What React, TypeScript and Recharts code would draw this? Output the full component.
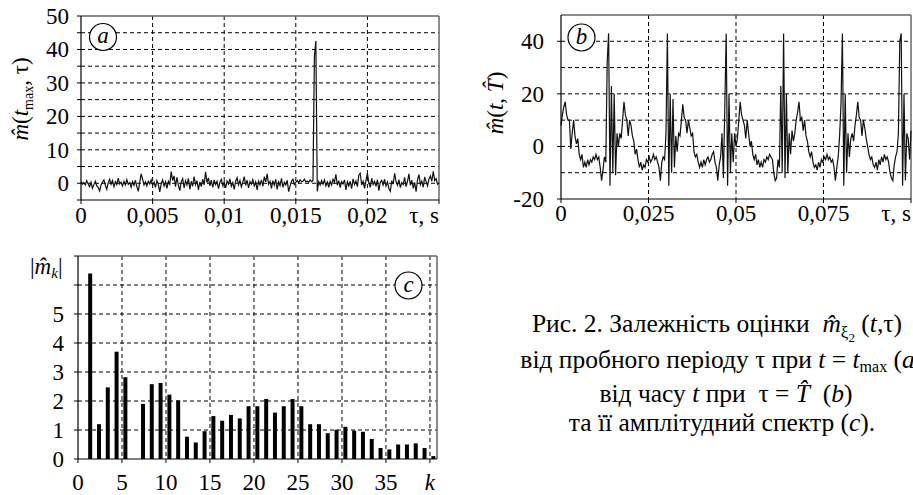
import React from 'react';
import { LineChart, Line, BarChart, Bar, XAxis, YAxis, CartesianGrid, ReferenceLine } from 'recharts';

const SERIF = "'Times New Roman', 'Liberation Serif', 'DejaVu Serif', serif";

// (a) m(t_max, tau), sampled every 0.0001 s
const aStep = 0.0001;
const aValues = [
    0.5, -0.3, 0.2, -0.5, 0.8, -0.2, -1.0, 0.3, -1.5, -0.4, 0.6, -0.8, -1.2, -2.3, -0.5, 0.4, 1.0, -0.6, -1.8, 0.2, 1.2, -0.3, 0.8, -1.0, 0.5,
    -0.4, 1.5, -0.2, 0.3, -0.8, 0.6, -0.5, 1.1, -0.3, 0.2, -1.2, 0.5, -0.6, 0.9, -1.0, -2.4, 0.3, 2.8, 1.2, -0.5, 0.4, -0.8, 0.6, -0.2, 1.0,
    -0.6, 0.3, -1.2, 0.8, -0.4, -2.6, -0.2, 1.0, -0.8, 0.5, -1.5, 0.6, -0.3, 3.5, 0.8, 2.2, -1.0, 1.8, -0.6, -2.2, 0.5, 1.4, -1.4, 0.8, -0.5,
    1.5, -1.8, 0.6, -0.9, 2.0, -0.4, 0.8, -2.0, 0.4, -1.0, 1.2, -0.5, 3.4, 0.2, 1.6, -0.8, 0.9, -1.2, 1.0, -0.4, 0.6, -1.6, 0.3, 1.2, -0.7,
    0.4, -1.4, 0.7, -0.2, 1.3, -0.9, 0.2, -1.8, 0.6, 1.7, -0.5, 0.8, -1.1, 0.3, 2.0, -0.6, 0.9, -1.4, 0.5, -0.3, 1.1, -0.8, 0.4, -2.0, 0.6,
    -0.5, 1.0, -0.9, 2.0, 0.4, 2.8, -0.3, 0.6, -1.5, 0.8, -0.6, 1.2, -1.8, 0.4, -0.7, 1.5, -1.2, 0.3, -0.5, 0.9, -2.5, -0.8, 0.6, 1.2, -0.4,
    0.3, 0.8, 0.2, 1.0, 0.5, 0.6, 1.2, 0.4, 0.7, 0.3, 1.0, 0.5, 0.8, 38, 42.5, -2.4, 0.5, -0.5, 0.8, -0.3, 1.0, -0.8, 0.4, -1.2, 0.6,
    -0.5, 1.2, 0.3, 2.7, -0.6, 0.8, -1.3, 0.5, -0.2, 1.0, -2.0, 0.4, -0.8, 0.6, -1.6, 1.3, -0.4, 0.7, -1.0, 2.4, 3.0, -0.5, 0.6, -1.5, 0.8,
    3.0, 0.2, -1.2, 1.5, -0.4, 0.6, -0.9, 1.0, -2.2, 0.3, 0.9, -0.5, 1.2, -0.8, 0.4, -1.6, -2.4, 0.8, -0.3, 3.0, 0.5, -0.6, 1.1, -1.3, 0.2,
    -0.4, 1.8, -1.0, 0.6, 2.8, -0.6, 0.9, -1.5, 0.3, -2.5, 1.0, 2.6, -0.4, 0.7, -1.2, 1.9, 0.5, -0.8, 1.3, 2.2, 0.6, 3.6, 0.8, 1.4, -0.3,
    0.2,
];
const aXTicks = [0, 0.005, 0.01, 0.015, 0.02, 0.025];
const aXLabels = ['0', '0,005', '0,01', '0,015', '0,02', 'τ, s'];
const aYTicks = [-5, 0, 5, 10, 15, 20, 25, 30, 35, 40, 45, 50];
const aYLabels = ['', '0', '', '10', '', '20', '', '30', '', '40', '', '50'];
const aGridY = [0, 5, 10, 15, 20, 25, 30, 35, 40, 45];
const aGridX = [0.005, 0.01, 0.015, 0.02];

// (b) m(t, T), sampled every 0.0004 s
const bStep = 0.0004;
const bValues = [
    8, 12, 15, 17, 12, 10, 10, -1, 5, 10, 4, 1, 3, -3, -5, -3, -8, -6, -8, -5, -7, -5, -6, -4, -5, -3, -5, -4, -8, -13, -9, -4, -6, 32,
    43,
    -15, 23, -10, 20, -11, 5, 0, 5, 3, 10, 17, 12, 10, 4, 10, 8, 4, 2, -3, -1, -5, -8, -6, -9, -7, -8, -5, -6, -4, -6, -5, -3, -5, -4, -6, -8, -13, -6, -4, -5, 5,
    43,
    -15, 20, -10, 18, -8, 4, -2, 5, 4, 10, 16, 11, 10, 5, 10, 7, 4, 5, -2, -4, -3, -6, -8, -6, -8, -5, -7, -5, -4, -6, -5, -3, -2, -6, -8, -13, -7, -4, 5, -12, 15,
    43,
    -15, 20, -10, 5, -6, 5, 0, 3, 10, 17, 12, 10, 8, 3, 10, 5, 0, 2, -3, -5, -3, -7, -5, -8, -6, -8, -5, -6, -4, -5, -3, -4, -5, -10, -13, -12, -5, -8, 23, -10,
    43,
    -12, 20, -10, 5, -3, 6, 2, 5, 10, 13, 17, 10, 11, 6, 10, 4, 2, -2, -4, -2, -6, -8, -7, -9, -6, -8, -5, -6, -4, -5, -3, -5, -4, -6, -5, -8, -13, -8, -4, 4, 16,
    43,
    -15, 20, -10, 5, -4, 3, 5, 2, 8, 12, 17, 11, 10, 4, 10, 7, 3, 0, -3, -5, -4, -7, -8, -6, -9, -5, -7, -4, -6, -3, -5, -4, -6, -10, -12, -13, -7, -4, -2, 5, 40,
    43,
    -15, 20, -13, 5, 3, -5, 6,
];
const bXTicks = [0, 0.025, 0.05, 0.075, 0.1];
const bXLabels = ['0', '0,025', '0,05', '0,075', 'τ, s'];
const bYTicks = [-20, 0, 20, 40];
const bYLabels = ['-20', '0', '20', '40'];
const bGridY = [-10, 0, 10, 20, 30, 40];
const bGridX = [0.025, 0.05, 0.075];

// (c) amplitude spectrum |m_k|
const cK = [
    1, 2, 3, 4, 5, 6, 7, 8, 9, 10, 11, 12, 13, 14, 15, 16, 17, 18, 19, 20,
    21, 22, 23, 24, 25, 26, 27, 28, 29, 30, 31, 32, 33, 34, 35, 36, 37, 38, 39, 40,
];
const cValues = [
    6.4, 1.2, 2.47, 3.7, 2.82, 0, 1.9, 2.58, 2.62, 2.22, 2.02, 0.77, 0.57, 0.96, 1.48, 1.32, 1.52, 1.4, 1.82, 1.82,
    2.07, 1.6, 1.82, 2.07, 1.82, 1.2, 1.2, 0.89, 1.01, 1.11, 0.98, 0.94, 0.69, 0.38, 0.33, 0.5, 0.5, 0.54, 0.38, 0.1,
];
const cXTicks = [0, 5, 10, 15, 20, 25, 30, 35, 40];
const cXLabels = ['0', '5', '10', '15', '20', '25', '30', '35', 'k'];
const cYTicks = [0, 1, 2, 3, 4, 5, 6, 7];
const cYLabels = ['0', '1', '2', '3', '4', '5', '', ''];
const cGridY = [1, 2, 3, 4, 5, 6];
const cGridX = [5, 10, 15, 20, 25, 30, 35, 40];

const aData = aValues.map((v, i) => ({ t: +(i * aStep).toFixed(5), v }));
const bData = bValues.map((v, i) => ({ t: +(i * bStep).toFixed(5), v }));
const cData = cK.map((k, i) => ({ k, v: cValues[i] }));

const FS = 23;
const CAP = 25.5;
const BORDER = '#666';
const txt = { fontFamily: SERIF, fontSize: FS };

const xTick = (ticks: number[], labels: string[], lastEnd: boolean, italicLast: boolean) => (props: any) => {
    const { x, y, payload } = props;
    const i = ticks.indexOf(payload.value);
    const label = i >= 0 ? labels[i] : '';
    if (!label) return <g />;
    const last = i === ticks.length - 1;
    return (
        <text x={x} y={y} dy="0.71em" textAnchor={last && lastEnd ? 'end' : 'middle'}
            style={{ ...txt, fontStyle: last && italicLast ? 'italic' : 'normal' }} fill="#000">{label}</text>
    );
};

const yTick = (ticks: number[], labels: string[]) => (props: any) => {
    const { x, y, payload } = props;
    const i = ticks.indexOf(payload.value);
    const label = i >= 0 ? labels[i] : '';
    if (!label) return <g />;
    return (
        <text x={x} y={y} dy="0.34em" textAnchor="end" style={txt} fill="#000">{label}</text>
    );
};

const axisLine = { stroke: '#000', strokeWidth: 1.2 };
const tickLine = { stroke: '#000', strokeWidth: 1 };

const PanelA = () => (
    <LineChart width={460} height={240} data={aData} margin={{ top: 16, right: 21, bottom: 0, left: 0 }}>
        <CartesianGrid stroke="#000" strokeDasharray="4 3" horizontalValues={aGridY} verticalValues={aGridX} />
        <XAxis type="number" dataKey="t" domain={[0, 0.025]} ticks={aXTicks} interval={0} height={40}
            tickSize={4} tickMargin={3} axisLine={axisLine} tickLine={tickLine}
            tick={xTick(aXTicks, aXLabels, true, false)} />
        <YAxis type="number" domain={[-5, 50]} ticks={aYTicks} interval={0} width={81}
            tickSize={4} tickMargin={8} axisLine={axisLine} tickLine={tickLine}
            tick={yTick(aYTicks, aYLabels)} />
        <ReferenceLine y={50} stroke={BORDER} strokeWidth={1.5} />
        <ReferenceLine x={0.025} stroke={BORDER} strokeWidth={1.5} />
        <Line type="linear" dataKey="v" stroke="#111" strokeWidth={1.2} dot={false} isAnimationActive={false} />
    </LineChart>
);

const PanelB = () => (
    <LineChart width={453} height={240} data={bData} margin={{ top: 15, right: 2, bottom: 0, left: 0 }}>
        <CartesianGrid stroke="#000" strokeDasharray="4 3" horizontalValues={bGridY} verticalValues={bGridX} />
        <XAxis type="number" dataKey="t" domain={[0, 0.1]} ticks={bXTicks} interval={0} height={41}
            tickSize={4} tickMargin={2} axisLine={axisLine} tickLine={tickLine}
            tick={xTick(bXTicks, bXLabels, true, false)} />
        <YAxis type="number" domain={[-20, 50]} ticks={bYTicks} interval={0} width={101}
            tickSize={4} tickMargin={13} axisLine={axisLine} tickLine={tickLine}
            tick={yTick(bYTicks, bYLabels)} />
        <ReferenceLine y={50} stroke={BORDER} strokeWidth={1.5} />
        <ReferenceLine x={0.1} stroke={BORDER} strokeWidth={1.5} />
        <Line type="linear" dataKey="v" stroke="#111" strokeWidth={1.2} dot={false} isAnimationActive={false} />
    </LineChart>
);

const PanelC = () => (
    <BarChart width={460} height={255} data={cData} margin={{ top: 16, right: 23, bottom: 0, left: 0 }}>
        <CartesianGrid xAxisId="g" stroke="#000" strokeDasharray="4 3" horizontalValues={cGridY} verticalValues={cGridX} />
        <XAxis xAxisId="g" type="number" dataKey="k" domain={[0, 40.8]} ticks={cXTicks} interval={0} height={36}
            tickSize={4} tickMargin={11} axisLine={axisLine} tickLine={tickLine}
            tick={xTick(cXTicks, cXLabels, false, true)} />
        {/* bars sit a little to the right of their integer k in the original */}
        <XAxis xAxisId="b" type="number" dataKey="k" domain={[-0.43, 40.37]} height={0} hide />
        <YAxis type="number" domain={[0, 7]} ticks={cYTicks} interval={0} width={78}
            tickSize={4} tickMargin={10} axisLine={axisLine} tickLine={tickLine}
            tick={yTick(cYTicks, cYLabels)} />
        <ReferenceLine xAxisId="g" y={7} stroke={BORDER} strokeWidth={1.5} />
        <ReferenceLine xAxisId="g" x={40.8} stroke={BORDER} strokeWidth={1.5} />
        <Bar xAxisId="b" dataKey="v" fill="#000" barSize={4} isAnimationActive={false} />
    </BarChart>
);

const Badge = ({ cx, cy, letter }: { cx: number; cy: number; letter: string }) => (
    <g>
        <circle cx={cx} cy={cy} r={13.5} fill="#fff" stroke="#000" strokeWidth={1.2} />
        <text x={cx} y={cy + 6} textAnchor="middle" style={{ fontStyle: 'italic', fontFamily: SERIF, fontSize: FS }}>{letter}</text>
    </g>
);

const it = { fontStyle: 'italic' as const };
const pre = { whiteSpace: 'pre' as const, fontFamily: SERIF, fontSize: FS };
const cap = { whiteSpace: 'pre' as const, fontFamily: SERIF, fontSize: CAP };

const App: React.FC = () => {
    return (
        <div style={{ position: 'absolute', left: 0, top: 0, width: 913, height: 495, overflow: 'hidden', background: '#fff', fontFamily: SERIF }}>
            <div style={{ position: 'absolute', left: 0, top: 0 }}><PanelA /></div>
            <div style={{ position: 'absolute', left: 460, top: 0 }}><PanelB /></div>
            <div style={{ position: 'absolute', left: 0, top: 240 }}><PanelC /></div>
            <svg width={913} height={495} style={{ position: 'absolute', left: 0, top: 0, pointerEvents: 'none' }} fill="#000">
                <Badge cx={103} cy={37} letter="a" />
                <Badge cx={581.5} cy={37.5} letter="b" />
                <Badge cx={408.5} cy={285.5} letter="c" />

                <text transform="translate(28,99) rotate(-90)" textAnchor="middle" style={pre}>
                    <tspan style={it}>m̂</tspan>(<tspan style={it}>t</tspan>
                    <tspan fontSize={14} dy={5}>max</tspan><tspan dy={-5}>, τ)</tspan>
                </text>
                <text transform="translate(503,103) rotate(-90)" textAnchor="middle" style={pre}>
                    <tspan style={it}>m̂</tspan>(<tspan style={it}>t</tspan>, <tspan style={it}>T̂</tspan>)
                </text>
                <text x={30} y={274} style={pre}>
                    |<tspan style={it}>m̂</tspan><tspan fontSize={15} dy={4} style={it}>k</tspan><tspan dy={-4}>|</tspan>
                </text>

                <text x={717} y={332} textAnchor="middle" style={cap}>
                    Рис. 2. Залежність оцінки  <tspan style={it}>m̂</tspan>
                    <tspan fontSize={17} dy={6}>ξ</tspan><tspan fontSize={13} dy={4}>2</tspan>
                    <tspan dy={-10}> (</tspan><tspan style={it}>t</tspan>,τ)
                </text>
                <text x={725} y={368} textAnchor="middle" style={cap}>
                    від пробного періоду τ при <tspan style={it}>t</tspan> = <tspan style={it}>t</tspan>
                    <tspan fontSize={16} dy={4}>max</tspan><tspan dy={-4}> (</tspan><tspan style={it}>a</tspan>),
                </text>
                <text x={726} y={402} textAnchor="middle" style={cap}>
                    від часу <tspan style={it}>t</tspan> при  τ = <tspan style={it}>T̂</tspan>  (<tspan style={it}>b</tspan>)
                </text>
                <text x={722} y={431} textAnchor="middle" style={cap}>
                    та її амплітудний спектр (<tspan style={it}>c</tspan>).
                </text>
            </svg>
        </div>
    );
};

export default App;
